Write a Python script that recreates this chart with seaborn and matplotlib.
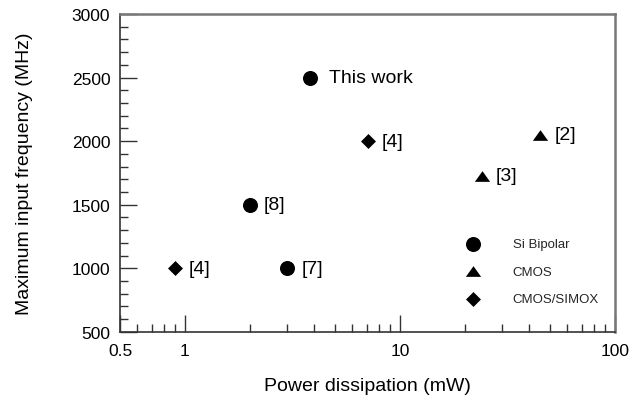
import numpy as np
import pandas as pd
import matplotlib
matplotlib.use("Agg")
import matplotlib.pyplot as plt
import seaborn as sns
from matplotlib.ticker import FixedLocator, NullFormatter, MultipleLocator

# data
si_power = [3.8, 2.0, 3.0]
si_freq = [2500, 1500, 1000]
si_refs = ["This work", "[8]", "[7]"]

cmos_power = [45, 24]
cmos_freq = [2050, 1730]
cmos_refs = ["[2]", "[3]"]

simox_power = [7.1, 0.9]
simox_freq = [2000, 1000]
simox_refs = ["[4]", "[4]"]

x_ticks = [0.5, 1, 10, 100]
x_tick_labels = ["0.5", "1", "10", "100"]
y_ticks = [500, 1000, 1500, 2000, 2500, 3000]

sns.set_theme(style="white")
plt.rcParams['font.family'] = ['Liberation Sans', 'DejaVu Sans']

fig = plt.figure(figsize=(6.32, 4.06), dpi=100)
ax = fig.add_axes([0.190, 0.180, 0.783, 0.783])

tri = [(-1, -0.7), (1, -0.7), (0, 0.7)]
groups = [
    ("Si Bipolar", si_power, si_freq, si_refs, "o", 117),
    ("CMOS", cmos_power, cmos_freq, cmos_refs, tri, 121),
    ("CMOS/SIMOX", simox_power, simox_freq, simox_refs, "D", 58),
]

for name, px, fy, refs, mk, size in groups:
    df = pd.DataFrame({"power": px, "freq": fy})
    sns.scatterplot(data=df, x="power", y="freq", marker=mk, s=size,
                    color="black", edgecolor="black", linewidth=0,
                    label=name, ax=ax)
    for xv, yv, txt in zip(px, fy, refs):
        dx = 14 if txt == "This work" else 10
        ax.annotate(txt, (xv, yv), xytext=(dx, 0), textcoords="offset points",
                    va="center", ha="left", fontsize=14, color="black")

ax.set_xscale("log")
ax.set_xlim(0.5, 100)
ax.set_ylim(500, 3000)
ax.xaxis.set_major_locator(FixedLocator(x_ticks))
ax.set_xticklabels(x_tick_labels)
minor = [v * d for d in (0.1, 1, 10) for v in range(2, 10)]
minor = [m for m in minor if 0.5 < m < 100 and m not in (1, 10)]
ax.xaxis.set_minor_locator(FixedLocator(minor))
ax.xaxis.set_minor_formatter(NullFormatter())
ax.set_yticks(y_ticks)
ax.yaxis.set_minor_locator(MultipleLocator(100))

ax.tick_params(axis="both", which="major", direction="in", length=12, width=1,
               color="#333333", labelsize=12.5, pad=7, labelcolor="black")
ax.tick_params(axis="both", which="minor", direction="in", length=6, width=1,
               color="#333333")
ax.tick_params(axis="x", which="major", pad=8)
ax.tick_params(axis="x", which="both", top=False, bottom=True)
ax.tick_params(axis="y", which="both", left=True, right=False)

for side in ["left", "bottom"]:
    ax.spines[side].set_color("#333333")
    ax.spines[side].set_linewidth(1.2)
for side in ["top", "right"]:
    ax.spines[side].set_color("#777777")
    ax.spines[side].set_linewidth(1.8)

ax.set_xlabel("Power dissipation (mW)", fontsize=14, labelpad=14, color="black")
ax.set_ylabel("Maximum input frequency (MHz)", fontsize=14, labelpad=28, color="black")
ax.grid(False)

ax.legend(loc="upper left", bbox_to_anchor=(0.728, 0.412),
          bbox_transform=fig.transFigure, frameon=False, fontsize=9.5,
          borderpad=0, borderaxespad=0, handlelength=2, handletextpad=2.0,
          labelspacing=1.16, scatterpoints=1)

fig.savefig("out.png", dpi=100)
